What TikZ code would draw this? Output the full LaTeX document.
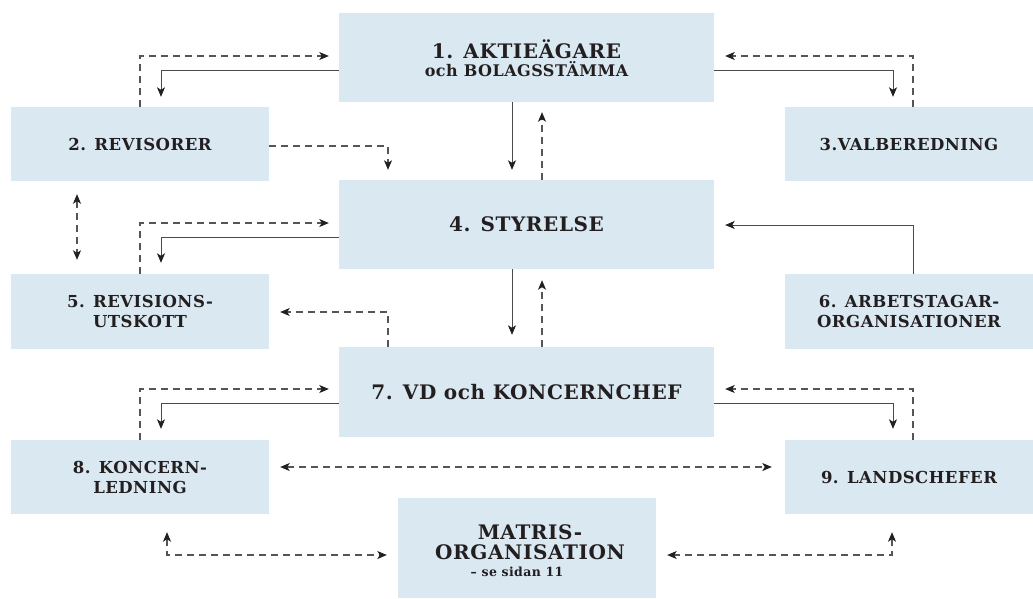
\documentclass[tikz,border=0pt]{standalone}
\usepackage{fontspec}
\setmainfont{DejaVu Serif}[LetterSpace=3]
\usetikzlibrary{arrows.meta}
\definecolor{boxfill}{HTML}{DAE8F2}
\definecolor{txt}{HTML}{231F20}
\definecolor{lin}{HTML}{4A4A4A}
\definecolor{dlin}{HTML}{555555}
\tikzset{
  orgbox/.style={fill=boxfill, inner sep=0pt, align=center, text=txt, font=\bfseries\fontsize{16.5}{20}\selectfont},
  bigtxt/.style={font=\bfseries\fontsize{20}{22}\selectfont},
  tip/.style={-{Stealth[length=9.5pt,width=8pt,inset=2.5pt,color=txt]}},
  soltip/.style={tip, draw=lin, line width=0.9pt},
  dashtip/.style={tip, draw=dlin, line width=1.1pt, dash pattern=on 7pt off 5pt},
  dbltip/.style={{Stealth[length=9.5pt,width=8pt,inset=2.5pt,color=txt]}-{Stealth[length=9.5pt,width=8pt,inset=2.5pt,color=txt]}, draw=dlin, line width=1.1pt, dash pattern=on 7pt off 5pt},
}
\begin{document}
\begin{tikzpicture}[x=1pt,y=-1pt]
\useasboundingbox (0,0) rectangle (1033,598);
% boxes
\node[orgbox, minimum width=375pt, minimum height=89pt] (b1) at (526.5,57.5) {};
\node[text=txt, align=center, inner sep=0pt, font=\bfseries] (b1t) at (526.5,58)
  {\fontsize{20}{20}\selectfont 1. AKTIEÄGARE\\[2pt]\fontsize{16}{20}\selectfont och BOLAGSSTÄMMA};
\node[orgbox, minimum width=258pt, minimum height=74pt] (b2) at (140,144) {2. REVISORER};
\node[orgbox, minimum width=248pt, minimum height=74pt] (b3) at (909,144) {3.VALBEREDNING};
\node[orgbox, bigtxt, minimum width=375pt, minimum height=89pt] (b4) at (526.5,224.5) {4. STYRELSE};
\node[orgbox, minimum width=258pt, minimum height=75pt] (b5) at (140,311.5) {5. REVISIONS-\\UTSKOTT};
\node[orgbox, minimum width=248pt, minimum height=75pt] (b6) at (909,311.5) {6. ARBETSTAGAR-\\ORGANISATIONER};
\node[orgbox, bigtxt, minimum width=375pt, minimum height=90pt] (b7) at (526.5,392) {7. VD och KONCERNCHEF};
\node[orgbox, minimum width=258pt, minimum height=74pt] (b8) at (140,477) {8. KONCERN-\\LEDNING};
\node[orgbox, minimum width=248pt, minimum height=74pt] (b9) at (909,477) {9. LANDSCHEFER};
\node[orgbox, minimum width=258pt, minimum height=100pt] (bm) at (527,548) {};
\node[text=txt, align=center, inner sep=0pt, font=\bfseries\fontsize{20}{20}\selectfont] (bmt) at (530,551)
  {MATRIS-\\ORGANISATION\\[-3pt]\fontsize{12.5}{15}\selectfont – se sidan 11\hspace*{26pt}};
% connectors row 1
\draw[soltip, shorten >=10pt] (b1.west |- 0,70) -| (b2.north -| 161,0);
\draw[dashtip, shorten >=10pt] (b2.north) |- (b1.west |- 0,56);
\draw[dashtip, shorten >=10pt] (b2.east |- 0,146) -| (b4.north -| 388,0);
\draw[soltip, shorten >=10pt] (b1.south -| 512,0) -- (b4.north -| 512,0);
\draw[dashtip, shorten >=10pt] (b4.north -| 542,0) -- (b1.south -| 542,0);
\draw[dashtip, shorten >=11pt] (b3.north -| 913,0) |- (b1.east |- 0,56);
\draw[soltip, shorten >=10pt] (b1.east |- 0,70) -| (b3.north -| 893,0);
% row 2
\draw[dbltip, shorten <=13pt, shorten >=14pt] (b2.south -| 77,0) -- (b5.north -| 77,0);
\draw[dashtip, shorten >=10pt] (b5.north) |- (b4.west |- 0,223);
\draw[soltip, shorten >=11pt] (b4.west |- 0,237) -| (b5.north -| 161,0);
\draw[dashtip, shorten >=11pt] (b7.north -| 388,0) |- (b5.east |- 0,312);
\draw[soltip, shorten >=12pt] (b4.south -| 512,0) -- (b7.north -| 512,0);
\draw[dashtip, shorten >=11pt] (b7.north -| 542,0) -- (b4.south -| 542,0);
\draw[soltip, shorten >=11pt] (b6.north -| 913,0) |- (b4.east |- 0,225);
% row 3
\draw[dashtip, shorten >=10pt] (b8.north) |- (b7.west |- 0,389);
\draw[soltip, shorten >=11pt] (b7.west |- 0,403) -| (b8.north -| 161,0);
\draw[dashtip, shorten >=11pt] (b9.north -| 913,0) |- (b7.east |- 0,389);
\draw[soltip, shorten >=11pt] (b7.east |- 0,403) -| (b9.north -| 893,0);
\draw[dbltip, shorten <=11pt, shorten >=13pt] (b8.east |- 0,467) -- (b9.west |- 0,467);
\draw[dbltip, shorten <=18pt, shorten >=11pt] (b8.south -| 167,0) |- (bm.west |- 0,555);
\draw[dbltip, shorten <=18pt, shorten >=11pt] (b9.south -| 892,0) |- (bm.east |- 0,555);
\end{tikzpicture}
\end{document}
